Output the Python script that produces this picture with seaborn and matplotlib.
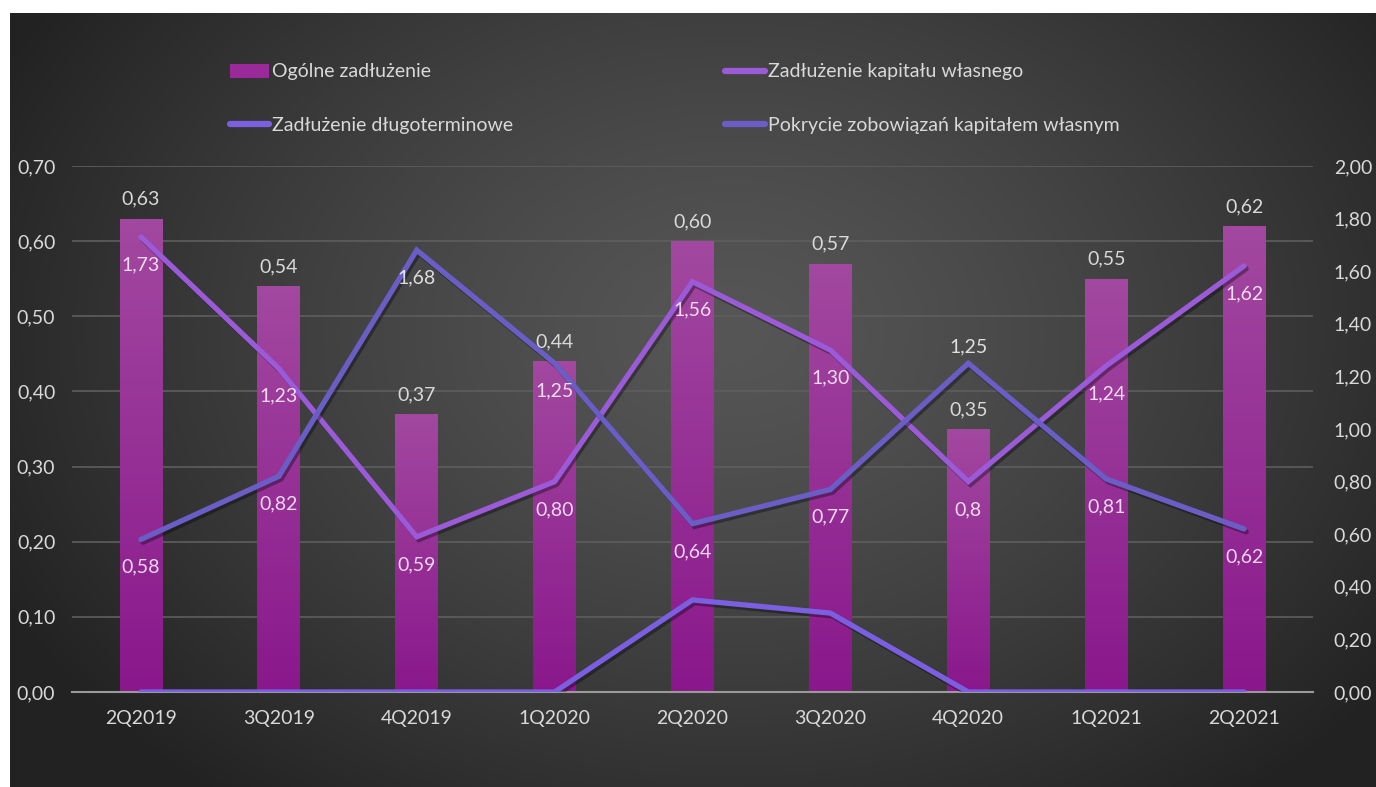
import numpy as np
import pandas as pd
import matplotlib
matplotlib.use("Agg")
import matplotlib.pyplot as plt
import matplotlib.patheffects as pe
from matplotlib.lines import Line2D
from matplotlib.patches import Patch
import seaborn as sns

# dane z wykresu
kwartaly = ['2Q2019', '3Q2019', '4Q2019', '1Q2020', '2Q2020', '3Q2020', '4Q2020', '1Q2021', '2Q2021']
ogolne = [0.63, 0.54, 0.37, 0.44, 0.60, 0.57, 0.35, 0.55, 0.62]
kapital = [1.73, 1.23, 0.59, 0.80, 1.56, 1.30, 0.80, 1.24, 1.62]
kapital_etykiety = ['1,73', '1,23', '0,59', '0,80', '1,56', '1,30', '0,8', '1,24', '1,62']
dlugoterminowe = [0, 0, 0, 0, 0.35, 0.30, 0, 0, 0]
pokrycie = [0.58, 0.82, 1.68, 1.25, 0.64, 0.77, 1.25, 0.81, 0.62]
pokrycie_etykiety = ['0,58', '0,82', '1,68', '1,25', '0,64', '0,77', '1,25', '0,81', '0,62']

lewa_os = [0.0, 0.1, 0.2, 0.3, 0.4, 0.5, 0.6, 0.7]
prawa_os = [0.0, 0.2, 0.4, 0.6, 0.8, 1.0, 1.2, 1.4, 1.6, 1.8, 2.0]

df = pd.DataFrame({'kw': kwartaly, 'poz': range(len(kwartaly)), 'ogolne': ogolne,
                   'kapital': kapital, 'dlugo': dlugoterminowe, 'pokrycie': pokrycie})

sns.set_style("white")
plt.rcParams['font.family'] = ['Lato', 'DejaVu Sans']
FS = 14
JASNY = '#D9D9D9'
C_BAR = '#9A2A9A'
C_KAP = '#9B5AD8'
C_DLU = '#7A5FE0'
C_POK = '#6A5EC6'

W, H = 1376, 787
fig = plt.figure(figsize=(W / 100, H / 100), dpi=100, facecolor='white')

# tlo z gradientem
bg = fig.add_axes([10 / W, 0, 1 - 10 / W, 1 - 13 / H], zorder=-5)
yy, xx = np.mgrid[0:774, 0:1366]
r = np.sqrt(((xx - 720) / 820.0) ** 2 + ((yy - 320) / 600.0) ** 2)
v = 86 - 52 * np.clip(r, 0, 1) ** 1.3
bg.imshow(np.dstack([v, v, v]) / 255.0, aspect='auto', extent=[0, 1, 0, 1])
bg.axis('off')

ax = fig.add_axes([72 / W, 95 / H, (1313 - 72) / W, (692 - 166) / H])
ax.set_facecolor('none')

sns.barplot(data=df, x='kw', y='ogolne', color=C_BAR, width=0.31, ax=ax, zorder=2)
ax.set_xlim(-0.5, 8.5)
ax.set_ylim(0, 0.7)

# gradient na slupkach
grad = np.linspace(0, 1, 100).reshape(-1, 1)
top = np.array([162, 72, 160]) / 255.0
bot = np.array([138, 24, 140]) / 255.0
cols = bot + (top - bot) * grad
for p in ax.patches:
    x0, y0 = p.get_x(), p.get_y()
    w, h = p.get_width(), p.get_height()
    im = ax.imshow(cols.reshape(100, 1, 3), extent=[x0, x0 + w, y0, y0 + h],
                   origin='lower', aspect='auto', zorder=2)
    im.set_clip_path(p)
    p.set_facecolor('none')
    p.set_edgecolor('none')
ax.set_xlim(-0.5, 8.5)
ax.set_ylim(0, 0.7)

for i, val in enumerate(ogolne):
    ax.annotate(f"{val:.2f}".replace('.', ','), (i, val), xytext=(0, 14),
                textcoords='offset points', ha='center', va='center',
                color=JASNY, fontsize=FS, zorder=3)

ax.set_yticks(lewa_os)
ax.set_yticklabels([f"{t:.2f}".replace('.', ',') for t in lewa_os])
ax.grid(axis='y', color='#5E5E5E', lw=1.2)
ax.grid(axis='x', visible=False)
ax.set_axisbelow(True)
for s in ['top', 'left', 'right']:
    ax.spines[s].set_visible(False)
ax.spines['bottom'].set_color('#9A9A9A')
ax.spines['bottom'].set_linewidth(1.5)
ax.tick_params(axis='both', length=0, colors=JASNY, labelsize=FS)
ax.tick_params(axis='x', pad=13)
ax.tick_params(axis='y', pad=12)
ax.set_xlabel('')
ax.set_ylabel('')

ax2 = ax.twinx()
sns.lineplot(data=df, x='poz', y='kapital', color=C_KAP, lw=3.8, ax=ax2)
sns.lineplot(data=df, x='poz', y='dlugo', color=C_DLU, lw=3.8, ax=ax2)
sns.lineplot(data=df, x='poz', y='pokrycie', color=C_POK, lw=3.8, ax=ax2)
for ln in ax2.lines:
    ln.set_solid_capstyle('round')
    ln.set_solid_joinstyle('miter')
    ln.set_path_effects([pe.SimpleLineShadow(offset=(1.5, -2), shadow_color='black', alpha=0.35),
                         pe.Normal()])
ax2.set_ylim(0, 2.0)
ax2.set_xlim(-0.5, 8.5)
ax2.set_yticks(prawa_os)
ax2.set_yticklabels([f"{t:.2f}".replace('.', ',') for t in prawa_os])
ax2.tick_params(axis='y', length=0, colors=JASNY, labelsize=FS, pad=15)
ax2.set_ylabel('')
ax2.grid(False)
for s in ax2.spines.values():
    s.set_visible(False)

for i in range(len(kwartaly)):
    ax2.annotate(kapital_etykiety[i], (i, kapital[i]), xytext=(0, -20),
                 textcoords='offset points', ha='center', va='center',
                 color='white', alpha=0.82, fontsize=FS)
    dy = 12 if i == 6 else -20
    ax2.annotate(pokrycie_etykiety[i], (i, pokrycie[i]), xytext=(0, dy),
                 textcoords='offset points', ha='center', va='center',
                 color='white', alpha=0.82, fontsize=FS)

uchwyty = [Patch(facecolor=C_BAR, edgecolor='none'),
           Line2D([0], [0], color=C_DLU, lw=4.5, solid_capstyle='round'),
           Line2D([0], [0], color=C_KAP, lw=4.5, solid_capstyle='round'),
           Line2D([0], [0], color=C_POK, lw=4.5, solid_capstyle='round')]
nazwy = ['Ogólne zadłużenie', 'Zadłużenie długoterminowe',
         'Zadłużenie kapitału własnego', 'Pokrycie zobowiązań kapitałem własnym']
leg = fig.legend(uchwyty, nazwy, ncol=2, loc='upper left', bbox_to_anchor=(212 / W, 1 - 46 / H),
                 frameon=False, fontsize=FS, handlelength=2.05, handleheight=0.75,
                 handletextpad=0.15, columnspacing=10.9, labelspacing=1.9)
for t in leg.get_texts():
    t.set_color(JASNY)

fig.savefig("out.png", dpi=100, facecolor='white')
